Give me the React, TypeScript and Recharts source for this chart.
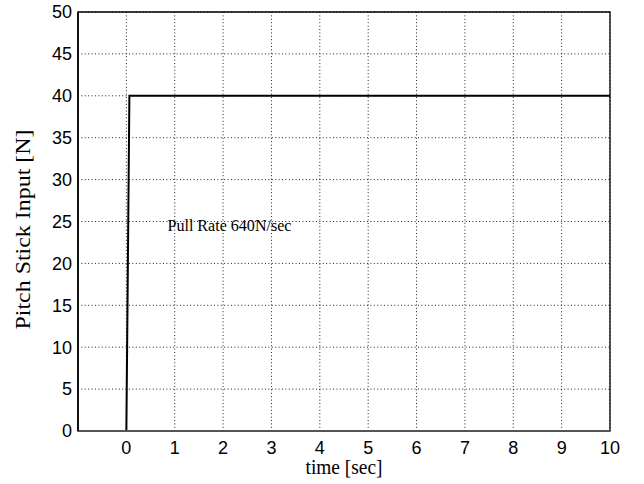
import React from 'react';
import { LineChart, Line, XAxis, YAxis, CartesianGrid, ReferenceArea, ReferenceDot, Label } from 'recharts';

const timeSec = [0, 0.0625, 10];
const pitchStickN = [0, 40, 40];
const xTicks = [0, 1, 2, 3, 4, 5, 6, 7, 8, 9, 10];
const yTicks = [0, 5, 10, 15, 20, 25, 30, 35, 40, 45, 50];
const annotation = { x: 0.85, y: 24, text: 'Pull Rate 640N/sec' };
const xLabel = 'time [sec]';
const yLabel = 'Pitch Stick Input [N]';

const data = timeSec.map((t, i) => ({ t, f: pitchStickN[i] }));

const sans = '"Liberation Sans", Arial, Helvetica, sans-serif';
const serif = '"Liberation Serif", "Times New Roman", serif';

const AnnotationLabel = (props: any) => {
  const vb = props.viewBox || {};
  return (
    <text x={vb.x} y={vb.y} dy={1} textAnchor="start" fontFamily={serif} fontSize={16.5} fill="#000" textLength={124} lengthAdjust="spacingAndGlyphs">
      {annotation.text}
    </text>
  );
};

const XLabelContent = (props: any) => {
  const vb = props.viewBox || {};
  return (
    <text x={vb.x + vb.width / 2} y={vb.y + 43} textAnchor="middle" fontFamily={serif} fontSize={20} fill="#000" textLength={77} lengthAdjust="spacingAndGlyphs">
      {xLabel}
    </text>
  );
};

const YLabelContent = (props: any) => {
  const vb = props.viewBox || {};
  const cx = 30;
  const cy = vb.y + vb.height / 2 + 8;
  return (
    <text x={cx} y={cy} transform={`rotate(-90 ${cx} ${cy})`} textAnchor="middle" fontFamily={serif} fontSize={20} fill="#000" textLength={200} lengthAdjust="spacingAndGlyphs">
      {yLabel}
    </text>
  );
};

export default function App() {
  return (
    <div style={{ position: 'absolute', left: 0, top: 0, background: '#fff' }}>
      <LineChart width={644} height={484} data={data} margin={{ top: 12, right: 34, bottom: 0, left: 0 }}>
        <CartesianGrid stroke="#222" strokeWidth={1} strokeDasharray="1 2.4" />
        <ReferenceArea x1={-1} x2={10} y1={0} y2={50} fill="none" stroke="#000" strokeWidth={1.3} ifOverflow="visible" />
        <XAxis
          dataKey="t"
          type="number"
          domain={[-1, 10]}
          ticks={xTicks}
          tickLine={false}
          tickSize={0}
          tickMargin={10}
          height={53}
          axisLine={{ stroke: '#555', strokeWidth: 2 }}
          tick={{ fill: '#000', fontSize: 18, fontFamily: sans }}
          interval={0}
        >
          <Label content={<XLabelContent />} />
        </XAxis>
        <YAxis
          type="number"
          domain={[0, 50]}
          ticks={yTicks}
          tickLine={false}
          tickSize={0}
          tickMargin={6}
          width={78}
          axisLine={{ stroke: '#000', strokeWidth: 1.5 }}
          tick={{ fill: '#000', fontSize: 18, fontFamily: sans }}
          interval={0}
        >
          <Label content={<YLabelContent />} />
        </YAxis>
        <ReferenceDot x={annotation.x} y={annotation.y} r={0} fill="none" stroke="none" label={<AnnotationLabel />} />
        <Line dataKey="f" type="linear" stroke="#000" strokeWidth={2} dot={false} isAnimationActive={false} />
      </LineChart>
    </div>
  );
}
